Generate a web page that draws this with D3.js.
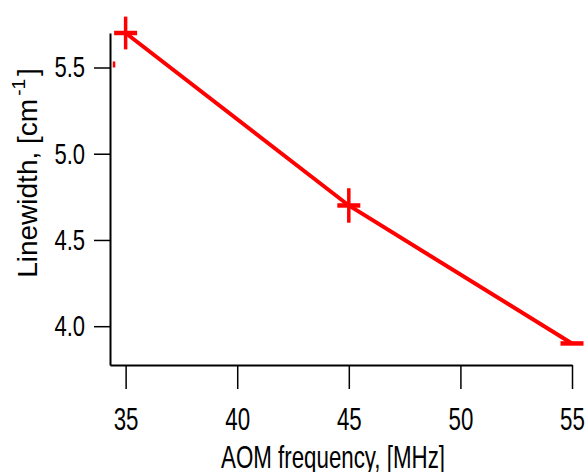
<!DOCTYPE html>
<html>
<head>
<meta charset="utf-8">
<script src="https://cdn.jsdelivr.net/npm/d3@7"></script>
<style>
  body { margin: 0; background: #fff; }
  svg { display: block; }
</style>
</head>
<body>
<div id="chart"></div>
<script>
// data
const freq = [35, 45, 55];
const linewidth = [5.7, 4.7, 3.9];
const errs = [0.095, 0.1, 0];
const xTicks = [35, 40, 45, 50, 55];
const yTicks = [4.0, 4.5, 5.0, 5.5];
// small stray red mark left of the first point
const stray = [{ x: 34.48, y0: 5.50, y1: 5.535 }];

const width = 587, height = 472;
const red = '#ff0000';
const sans = '"Liberation Sans", Arial, sans-serif';
// no narrow font installed, so squeeze the labels horizontally
const squeeze = 0.72;

const svg = d3.select('#chart')
  .append('svg')
  .attr('width', width)
  .attr('height', height);

svg.append('rect').attr('width', width).attr('height', height).attr('fill', '#fff');

const x = d3.scaleLinear().domain([34.3, 55]).range([110, 572]);
const y = d3.scaleLinear().domain([3.775, 5.7]).range([365, 33]);

// Axes
const xAxis = svg.append('g')
  .attr('transform', `translate(0,${y.range()[0]})`)
  .call(d3.axisBottom(x).tickValues(xTicks).tickSize(24).tickSizeOuter(0).tickPadding(19).tickFormat(d3.format('d')));
xAxis.select('.domain').attr('stroke', '#000').attr('stroke-width', 2);
xAxis.selectAll('.tick line').attr('stroke', '#000').attr('stroke-width', 1.5);
xAxis.selectAll('.tick text')
  .attr('fill', '#000')
  .attr('transform', `scale(${squeeze},1)`)
  .style('font-family', sans)
  .style('font-size', '31px');

const yAxis = svg.append('g')
  .attr('transform', `translate(${x.range()[0]},0)`)
  .call(d3.axisLeft(y).tickValues(yTicks).tickSize(16).tickSizeOuter(0).tickPadding(9).tickFormat(d3.format('.1f')));
yAxis.select('.domain').attr('stroke', '#000').attr('stroke-width', 2);
yAxis.selectAll('.tick line').attr('stroke', '#000').attr('stroke-width', 1.5);
yAxis.selectAll('.tick text')
  .attr('fill', '#000')
  .attr('x', -25 / 0.76)
  .attr('transform', 'scale(0.76,1)')
  .style('font-family', sans)
  .style('font-size', '29px');

// Axis titles
svg.append('text')
  .attr('transform', `translate(333,468) scale(${squeeze},1)`)
  .attr('text-anchor', 'middle')
  .style('font-family', sans)
  .style('font-size', '31px')
  .text('AOM frequency, [MHz]');

const yTitle = svg.append('text')
  .attr('transform', 'translate(37,173) rotate(-90)')
  .attr('text-anchor', 'middle')
  .style('font-family', sans)
  .style('font-size', '28px');
yTitle.append('tspan').text('Linewidth, [cm');
yTitle.append('tspan').attr('dx', 3).attr('dy', -12).style('font-size', '19px').text('-1');
yTitle.append('tspan').attr('dx', 3).attr('dy', 12).text(']');

// Data
const pts = freq.map((f, i) => ({ f, v: linewidth[i], e: errs[i] }));

svg.append('path')
  .datum(pts)
  .attr('fill', 'none')
  .attr('stroke', red)
  .attr('stroke-width', 4)
  .attr('d', d3.line().x(d => x(d.f)).y(d => y(d.v)));

// error bars
svg.selectAll('.err')
  .data(pts.filter(d => d.e > 0))
  .enter().append('line')
  .attr('x1', d => x(d.f)).attr('x2', d => x(d.f))
  .attr('y1', d => y(d.v - d.e)).attr('y2', d => y(d.v + d.e))
  .attr('stroke', red)
  .attr('stroke-width', 3.5);

// markers (horizontal dash)
svg.selectAll('.mk')
  .data(pts)
  .enter().append('line')
  .attr('x1', d => x(d.f) - 11.5).attr('x2', d => x(d.f) + 11.5)
  .attr('y1', d => y(d.v)).attr('y2', d => y(d.v))
  .attr('stroke', red)
  .attr('stroke-width', 4.5);

svg.selectAll('.stray')
  .data(stray)
  .enter().append('line')
  .attr('x1', d => x(d.x)).attr('x2', d => x(d.x))
  .attr('y1', d => y(d.y0)).attr('y2', d => y(d.y1))
  .attr('stroke', red)
  .attr('stroke-width', 2.5);
</script>
</body>
</html>
